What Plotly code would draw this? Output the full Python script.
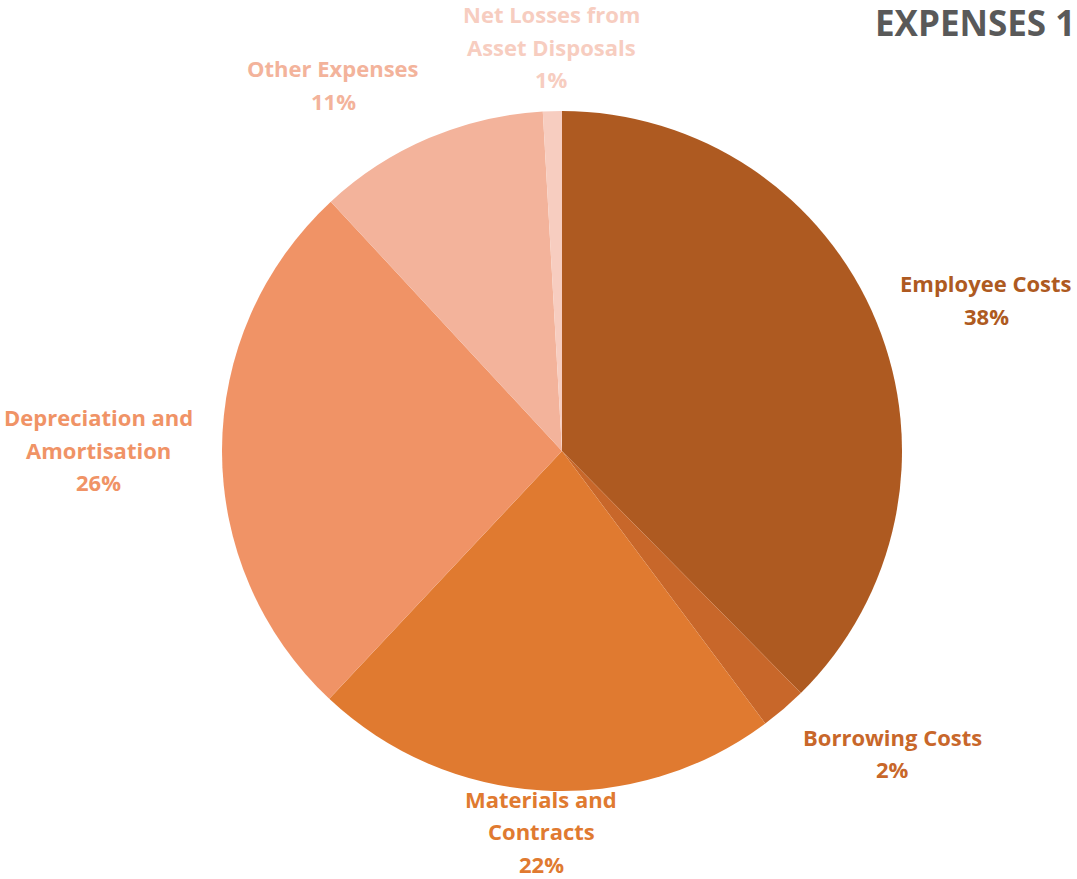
import math
import plotly.graph_objects as go

categories = ["Employee Costs", "Borrowing Costs", "Materials and<br>Contracts",
              "Depreciation and<br>Amortisation", "Other Expenses", "Net Losses from<br>Asset Disposals"]
values = [37.6, 2.2, 22.2, 26.1, 11.0, 0.9]
colors = ["#AE5A21", "#C8672A", "#E07A30", "#F09366", "#F3B39B", "#F7CDC0"]
title_text = "EXPENSES 1"

W, H = 1077, 879
CX, CY, R = 562, 451, 340
GAP = 366
FONT = "Open Sans"
FS = 22
LINE_H = 32.5
CHAR_W = 0.555 * FS

fig = go.Figure(go.Pie(
    labels=[c.replace("<br>", " ") for c in categories],
    values=values,
    marker=dict(colors=colors, line=dict(width=0)),
    sort=False,
    direction="clockwise",
    rotation=0,
    textinfo="none",
    hoverinfo="label+percent",
    showlegend=False,
    domain=dict(x=[(CX - R) / W, (CX + R) / W], y=[1 - (CY + R) / H, 1 - (CY - R) / H]),
))

total = sum(values)
cum = 0.0
annotations = []
for cat, v, col in zip(categories, values, colors):
    mid = (cum + v / 2) / total * 2 * math.pi
    cum += v
    s, c = math.sin(mid), math.cos(mid)
    px = CX + GAP * s
    py = CY - GAP * c
    pct = round(v / total * 100)
    lines = cat.split("<br>") + [f"{pct}%"]
    bw = max(len(l) for l in lines) * CHAR_W
    bh = len(lines) * LINE_H
    if s > 0.2:
        bx = px + bw / 2
    elif s < -0.2:
        bx = px - bw / 2
    else:
        bx = px
    top = py - bh / 2 - (bh / 2) * c
    top = min(top, H + 1 - bh)
    top = max(top, -2)
    for i, line in enumerate(lines):
        ly = top + LINE_H * (i + 0.5)
        annotations.append(dict(
            x=bx / W, y=1 - ly / H, xref="paper", yref="paper",
            xanchor="center", yanchor="middle", text=line, showarrow=False,
            font=dict(family=FONT, size=FS, color=col, weight="bold"),
        ))

annotations.append(dict(
    x=1.0, y=1.0, xref="paper", yref="paper", xanchor="right", yanchor="top",
    text=title_text, showarrow=False, yshift=3,
    font=dict(family=FONT, size=35, color="#595959", weight="bold"),
))

fig.update_layout(
    width=W, height=H,
    margin=dict(l=0, r=0, t=0, b=0),
    paper_bgcolor="white", plot_bgcolor="white",
    annotations=annotations,
)

fig.write_html("out.html")
